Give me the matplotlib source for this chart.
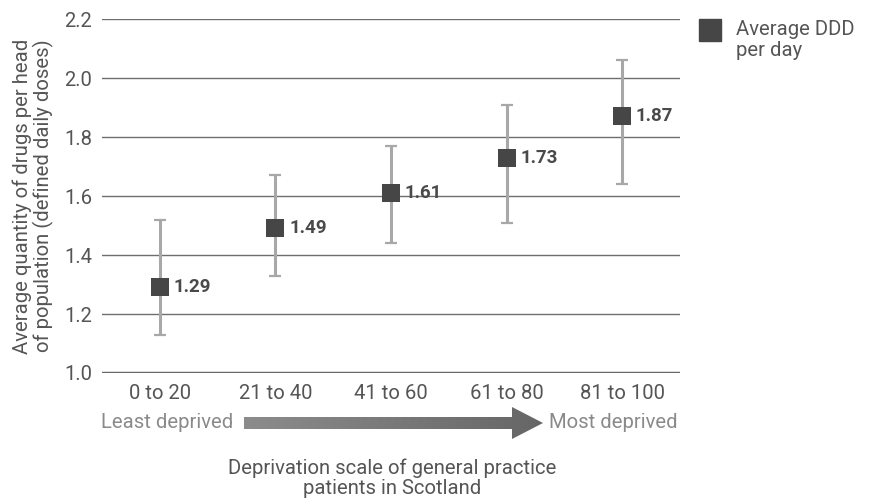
import numpy as np
import matplotlib.pyplot as plt
from matplotlib.patches import Polygon
from matplotlib.colors import LinearSegmentedColormap

plt.rcParams['font.family'] = ['Roboto', 'DejaVu Sans']

categories = ["0 to 20", "21 to 40", "41 to 60", "61 to 80", "81 to 100"]
avg_ddd = [1.29, 1.49, 1.61, 1.73, 1.87]
ci_low = [1.13, 1.33, 1.44, 1.51, 1.64]
ci_high = [1.52, 1.67, 1.77, 1.91, 2.06]
yticks = [1.0, 1.2, 1.4, 1.6, 1.8, 2.0, 2.2]

txt = "#555555"
fs = 14.6
fig = plt.figure(figsize=(8.72, 5.01), dpi=100)
ax = fig.add_axes([0.117, 0.2555, 0.663, 0.7065])

x = np.arange(len(categories))
for v in yticks[1:]:
    ax.axhline(v, color="#6e6e6e", lw=1.0, zorder=1)
ax.axhline(1.0, color="#6a6a6a", lw=2.5, zorder=1)

lo = np.array(avg_ddd) - np.array(ci_low)
hi = np.array(ci_high) - np.array(avg_ddd)
ax.errorbar(x, avg_ddd, yerr=[lo, hi], fmt="none", ecolor="#a8a8a8",
            elinewidth=2.2, capsize=4.3, capthick=1.6, zorder=2)
ax.scatter(x, avg_ddd, marker="s", s=150, color="#464646", zorder=3,
           linewidths=0)
for xi, v in zip(x, avg_ddd):
    ax.annotate(f"{v:.2f}", (xi, v), xytext=(9.8, 0), textcoords="offset points",
                va="center", ha="left", fontsize=13.5, fontweight="bold",
                color="#4a4a4a")

ax.set_xlim(-0.5, len(categories) - 0.5)
ax.set_ylim(1.0, 2.2)
ax.set_yticks(yticks)
ax.set_yticklabels([f"{v:.1f}" for v in yticks], fontsize=fs, color=txt)
ax.set_xticks(x)
ax.set_xticklabels(categories, fontsize=fs, color=txt)
ax.tick_params(axis="x", length=0, pad=8)
ax.tick_params(axis="y", length=0, pad=7)
for s in ax.spines.values():
    s.set_visible(False)
ax.set_ylabel("Average quantity of drugs per head\nof population (defined daily doses)",
              fontsize=fs, color=txt, labelpad=7, linespacing=1.08)

# overlay in pixel coords
ov = fig.add_axes([0, 0, 1, 1], zorder=-1)
ov.set_xlim(0, 872)
ov.set_ylim(501, 0)
ov.axis("off")

# gradient arrow
x0, x1, xh, yc = 244, 543, 512, 423
bh, hh = 6, 16
pts = [(x0, yc - bh), (xh, yc - bh), (xh, yc - hh), (x1, yc),
       (xh, yc + hh), (xh, yc + bh), (x0, yc + bh)]
arrow = Polygon(pts, closed=True, facecolor="none", edgecolor="none")
ov.add_patch(arrow)
cmap = LinearSegmentedColormap.from_list("arr", ["#8c8c8c", "#666666"])
grad = np.linspace(0, 1, 256).reshape(1, -1)
im = ov.imshow(grad, extent=[x0, x1, yc + hh, yc - hh], cmap=cmap,
               aspect="auto", zorder=2)
im.set_clip_path(arrow)

ov.text(233, yc, "Least deprived", ha="right", va="center", fontsize=fs,
        color="#8a8a8a")
ov.text(549, yc, "Most deprived", ha="left", va="center", fontsize=fs,
        color="#8a8a8a")
ov.text(392, 478, "Deprivation scale of general practice\npatients in Scotland",
        ha="center", va="center", fontsize=fs, color=txt, linespacing=1.1)

# legend
ov.add_patch(plt.Rectangle((699, 19), 22, 22, color="#464646", zorder=3))
ov.text(736, 20, "Average DDD\nper day", ha="left", va="top", fontsize=fs,
        color=txt, linespacing=1.15)

fig.savefig("out.png", dpi=100)
